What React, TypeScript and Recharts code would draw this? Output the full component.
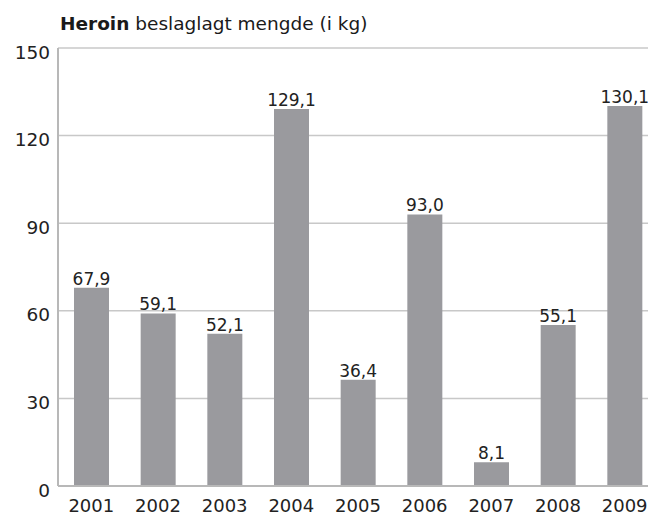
import React from "react";
import { BarChart, Bar, XAxis, YAxis, CartesianGrid, LabelList } from "recharts";

const years = ["2001", "2002", "2003", "2004", "2005", "2006", "2007", "2008", "2009"];
const heroinKg = [67.9, 59.1, 52.1, 129.1, 36.4, 93.0, 8.1, 55.1, 130.1];
const yTicks = [0, 30, 60, 90, 120, 150];

const data = years.map((y, i) => ({ year: y, value: heroinKg[i] }));

const FONT = "'DejaVu Sans', sans-serif";

const fmt = (v: number) => v.toFixed(1).replace(".", ",");

const ValueLabel = (props: any) => {
  const { x, y, width, value } = props;
  return (
    <text
      x={x + width / 2}
      y={y - 3}
      textAnchor="middle"
      fontFamily={FONT}
      fontSize={17}
      fill="#222"
    >
      {fmt(value)}
    </text>
  );
};

export default function App() {
  return (
    <div
      style={{
        position: "absolute",
        left: 0,
        top: 0,
        width: 648,
        height: 516,
        overflow: "hidden",
        background: "#fff",
      }}
    >
      <div
        style={{
          position: "absolute",
          left: 60,
          top: 14,
          fontFamily: FONT,
          fontSize: 18.5,
          color: "#1a1a1a",
          whiteSpace: "nowrap",
          lineHeight: "20px",
        }}
      >
        <b>Heroin</b> beslaglagt mengde (i kg)
      </div>
      <BarChart
        width={680}
        height={516}
        data={data}
        margin={{ top: 48, right: 22, left: 0, bottom: 0 }}
        barCategoryGap={0}
      >
        <CartesianGrid vertical={false} stroke="#c8c8c8" strokeWidth={1.5} />
        <YAxis
          width={58}
          domain={[0, 150]}
          ticks={yTicks}
          axisLine={{ stroke: "#b8b8b8", strokeWidth: 2 }}
          tickLine={false}
          tick={{ fontFamily: FONT, fontSize: 18.5, fill: "#222", dy: 4 }}
        />
        <XAxis
          dataKey="year"
          height={30}
          axisLine={{ stroke: "#b8b8b8", strokeWidth: 2 }}
          tickLine={false}
          tickMargin={7}
          interval={0}
          tick={{ fontFamily: FONT, fontSize: 18, fill: "#222" }}
        />
        <Bar dataKey="value" fill="#9a9a9e" barSize={35} isAnimationActive={false}>
          <LabelList dataKey="value" content={<ValueLabel />} />
        </Bar>
      </BarChart>
    </div>
  );
}
